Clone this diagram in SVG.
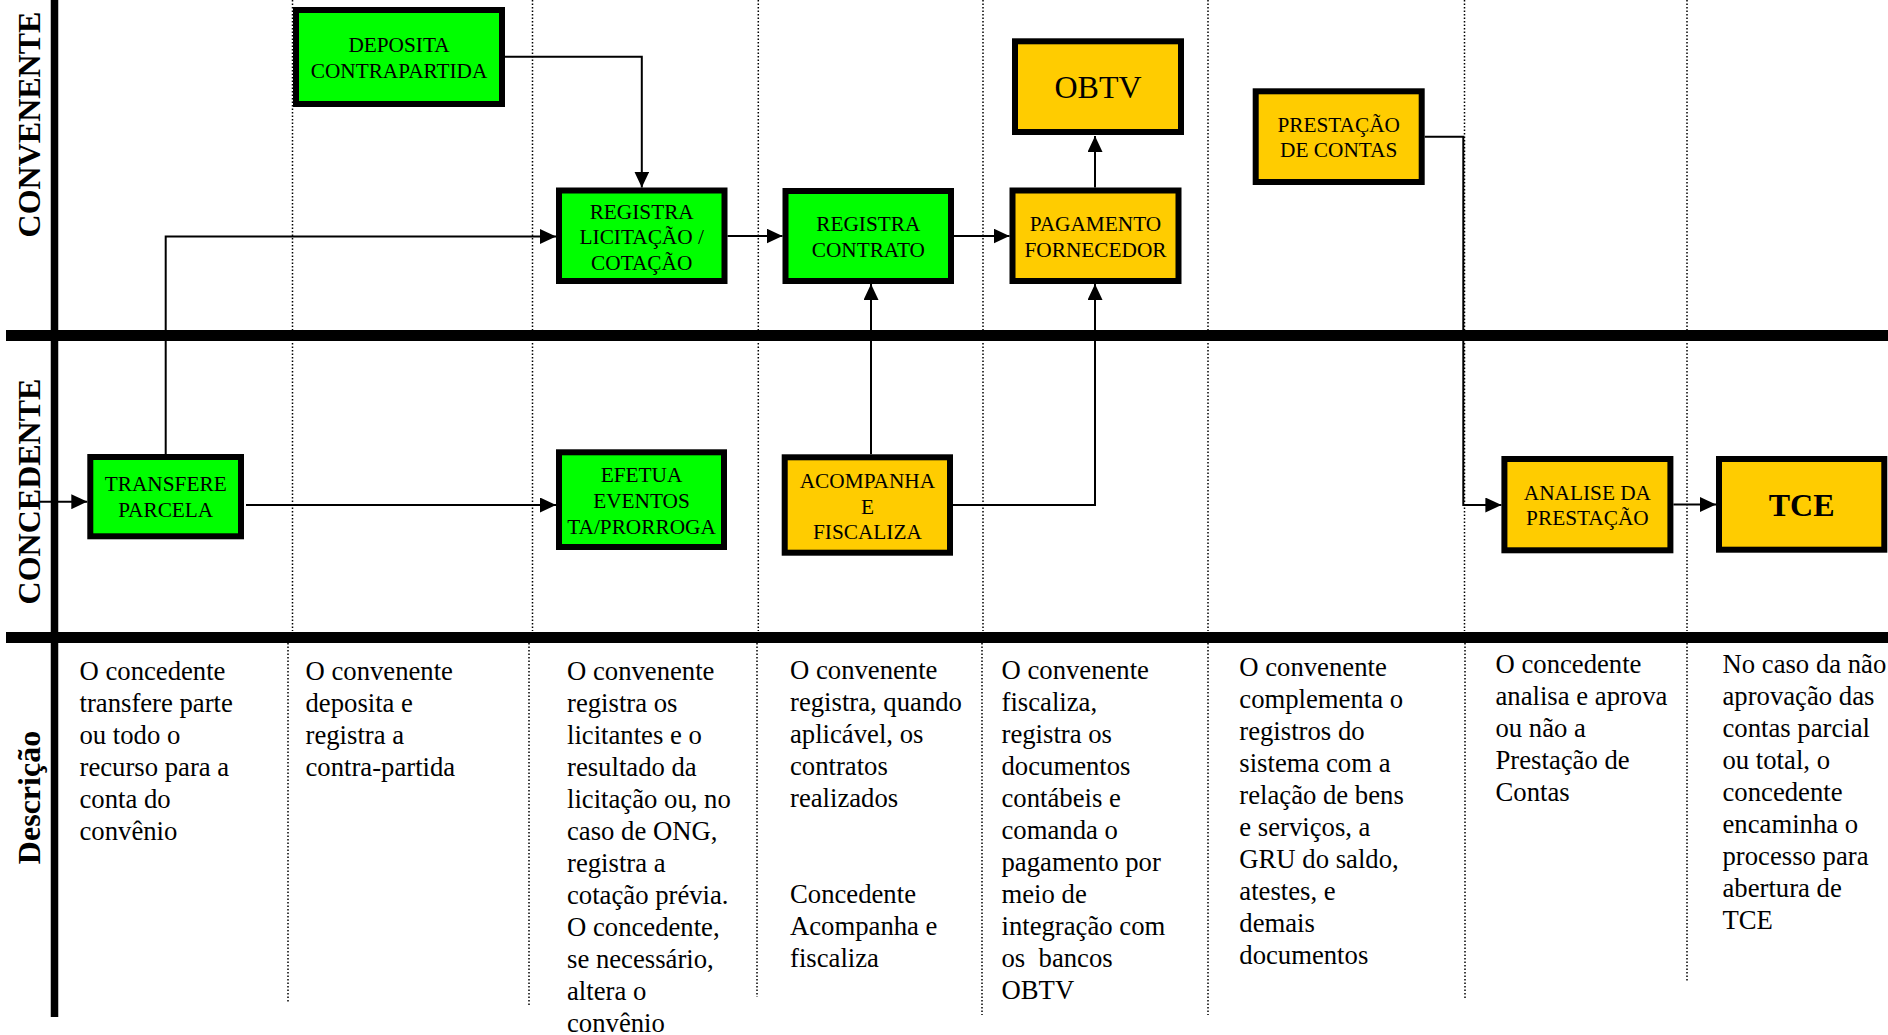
<svg xmlns="http://www.w3.org/2000/svg" width="1888" height="1035" viewBox="0 0 1888 1035">
<style>
.bx{stroke:#000;stroke-width:6}
.g{fill:#00ff00}
.y{fill:#ffcc00}
.bt{font-family:"Liberation Serif","Times New Roman",serif;font-size:21.3px;text-anchor:middle;fill:#000}
.big{font-size:32px}
.bold{font-weight:bold}
.ds{font-family:"Liberation Serif","Times New Roman",serif;font-size:26.7px;fill:#000}
.ln{font-family:"Liberation Serif","Times New Roman",serif;font-size:32px;font-weight:bold;text-anchor:middle;fill:#000}
.c{fill:none;stroke:#000;stroke-width:2}
.dot{stroke:#000;stroke-width:1.5;stroke-dasharray:1.5 2;fill:none}
.thick{stroke:#000;fill:none}
</style>
<defs>
<marker id="ah" markerUnits="userSpaceOnUse" markerWidth="16" markerHeight="15" refX="16" refY="7.5" orient="auto">
<path d="M0,0 L16,7.5 L0,15 Z" fill="#000"/>
</marker>
</defs>
<rect width="1888" height="1035" fill="#fff"/>
<g id="grid">
<path class="dot" d="M292.5,0V631 M532.5,0V631 M758.3,0V631 M983,0V631 M1208,0V631 M1464.5,0V631 M1687,0V631"/>
<path class="dot" d="M288,643V1003 M529,643V1006 M757,643V997 M982,643V1015 M1208,643V1015 M1465,643V998 M1687,643V982"/>
<path class="thick" stroke-width="7.5" d="M54.5,0V1017"/>
<path class="thick" stroke-width="11" d="M6,335.5H1888 M6,637.5H1888"/>
</g>
<g id="lanes">
<text class="ln" transform="translate(40,124.5) rotate(-90)">CONVENENTE</text>
<text class="ln" transform="translate(40,491.5) rotate(-90)">CONCEDENTE</text>
<text class="ln" transform="translate(40,797.5) rotate(-90)">Descrição</text>
</g>
<g id="connectors">
<path class="c" d="M165.7,454V236.5H556" marker-end="url(#ah)"/>
<path class="c" d="M505,56.7H641.8V187.5" marker-end="url(#ah)"/>
<path class="c" d="M727.5,236H782.5" marker-end="url(#ah)"/>
<path class="c" d="M954,236H1009.5" marker-end="url(#ah)"/>
<path class="c" d="M1095,187.5V136" marker-end="url(#ah)"/>
<path class="c" d="M871,454.3V284" marker-end="url(#ah)"/>
<path class="c" d="M953,505H1095V284" marker-end="url(#ah)"/>
<path class="c" d="M1424.7,136.7H1463.3V505H1501.4" marker-end="url(#ah)"/>
<path class="c" d="M1673.4,504.5H1716" marker-end="url(#ah)"/>
<path class="c" d="M40,501.7H87.3" marker-end="url(#ah)"/>
<path class="c" d="M246,505H556" marker-end="url(#ah)"/>
</g>
<g id="deposita">
<rect class="bx g" x="296" y="10" width="206" height="94"/>
<text class="bt"><tspan x="399" y="51.5">DEPOSITA</tspan><tspan x="399" y="77.5">CONTRAPARTIDA</tspan></text>
</g>
<g id="registra-licitacao">
<rect class="bx g" x="559" y="190.5" width="165.5" height="90.5"/>
<text class="bt"><tspan x="641.7" y="218.5">REGISTRA</tspan><tspan x="641.7" y="244">LICITAÇÃO /</tspan><tspan x="641.7" y="269.5">COTAÇÃO</tspan></text>
</g>
<g id="registra-contrato">
<rect class="bx g" x="785.5" y="191" width="165.5" height="90"/>
<text class="bt"><tspan x="868.3" y="231">REGISTRA</tspan><tspan x="868.3" y="257">CONTRATO</tspan></text>
</g>
<g id="pagamento">
<rect class="bx y" x="1012.5" y="190.5" width="166" height="90.5"/>
<text class="bt"><tspan x="1095.5" y="231">PAGAMENTO</tspan><tspan x="1095.5" y="257">FORNECEDOR</tspan></text>
</g>
<g id="obtv">
<rect class="bx y" x="1015" y="41.3" width="166" height="90.7"/>
<text class="bt big" x="1098" y="98">OBTV</text>
</g>
<g id="prestacao">
<rect class="bx y" x="1255.7" y="91.3" width="166" height="90.7"/>
<text class="bt"><tspan x="1338.7" y="131.5">PRESTAÇÃO</tspan><tspan x="1338.7" y="157">DE CONTAS</tspan></text>
</g>
<g id="transfere">
<rect class="bx g" x="90.3" y="457" width="150.7" height="79.3"/>
<text class="bt"><tspan x="165.7" y="491">TRANSFERE</tspan><tspan x="165.7" y="516.5">PARCELA</tspan></text>
</g>
<g id="efetua">
<rect class="bx g" x="559" y="452.3" width="165" height="94.7"/>
<text class="bt"><tspan x="641.5" y="482">EFETUA</tspan><tspan x="641.5" y="508">EVENTOS</tspan><tspan x="641.5" y="534">TA/PRORROGA</tspan></text>
</g>
<g id="acompanha">
<rect class="bx y" x="784.7" y="457.3" width="165.3" height="95.4"/>
<text class="bt"><tspan x="867.4" y="488">ACOMPANHA</tspan><tspan x="867.4" y="513.5">E</tspan><tspan x="867.4" y="539">FISCALIZA</tspan></text>
</g>
<g id="analise">
<rect class="bx y" x="1504.4" y="459" width="166" height="91.3"/>
<text class="bt"><tspan x="1587.4" y="499.5">ANALISE DA</tspan><tspan x="1587.4" y="525">PRESTAÇÃO</tspan></text>
</g>
<g id="tce">
<rect class="bx y" x="1719" y="459" width="165.3" height="90.7"/>
<text class="bt big bold" x="1801.6" y="516">TCE</text>
</g>
<g id="descricoes">
<text class="ds"><tspan x="79.5" y="680">O concedente</tspan><tspan x="79.5" dy="32">transfere parte</tspan><tspan x="79.5" dy="32">ou todo o</tspan><tspan x="79.5" dy="32">recurso para a</tspan><tspan x="79.5" dy="32">conta do</tspan><tspan x="79.5" dy="32">convênio</tspan></text>
<text class="ds"><tspan x="305.5" y="680">O convenente</tspan><tspan x="305.5" dy="32">deposita e</tspan><tspan x="305.5" dy="32">registra a</tspan><tspan x="305.5" dy="32">contra-partida</tspan></text>
<text class="ds"><tspan x="567" y="680">O convenente</tspan><tspan x="567" dy="32">registra os</tspan><tspan x="567" dy="32">licitantes e o</tspan><tspan x="567" dy="32">resultado da</tspan><tspan x="567" dy="32">licitação ou, no</tspan><tspan x="567" dy="32">caso de ONG,</tspan><tspan x="567" dy="32">registra a</tspan><tspan x="567" dy="32">cotação prévia.</tspan><tspan x="567" dy="32">O concedente,</tspan><tspan x="567" dy="32">se necessário,</tspan><tspan x="567" dy="32">altera o</tspan><tspan x="567" dy="32">convênio</tspan></text>
<text class="ds"><tspan x="790" y="679">O convenente</tspan><tspan x="790" dy="32">registra, quando</tspan><tspan x="790" dy="32">aplicável, os</tspan><tspan x="790" dy="32">contratos</tspan><tspan x="790" dy="32">realizados</tspan><tspan x="790" dy="96">Concedente</tspan><tspan x="790" dy="32">Acompanha e</tspan><tspan x="790" dy="32">fiscaliza</tspan></text>
<text class="ds"><tspan x="1001.5" y="679">O convenente</tspan><tspan x="1001.5" dy="32">fiscaliza,</tspan><tspan x="1001.5" dy="32">registra os</tspan><tspan x="1001.5" dy="32">documentos</tspan><tspan x="1001.5" dy="32">contábeis e</tspan><tspan x="1001.5" dy="32">comanda o</tspan><tspan x="1001.5" dy="32">pagamento por</tspan><tspan x="1001.5" dy="32">meio de</tspan><tspan x="1001.5" dy="32">integração com</tspan><tspan x="1001.5" dy="32">os&#160; bancos</tspan><tspan x="1001.5" dy="32">OBTV</tspan></text>
<text class="ds"><tspan x="1239.3" y="676">O convenente</tspan><tspan x="1239.3" dy="32">complementa o</tspan><tspan x="1239.3" dy="32">registros do</tspan><tspan x="1239.3" dy="32">sistema com a</tspan><tspan x="1239.3" dy="32">relação de bens</tspan><tspan x="1239.3" dy="32">e serviços, a</tspan><tspan x="1239.3" dy="32">GRU do saldo,</tspan><tspan x="1239.3" dy="32">atestes, e</tspan><tspan x="1239.3" dy="32">demais</tspan><tspan x="1239.3" dy="32">documentos</tspan></text>
<text class="ds"><tspan x="1495.5" y="672.5">O concedente</tspan><tspan x="1495.5" dy="32">analisa e aprova</tspan><tspan x="1495.5" dy="32">ou não a</tspan><tspan x="1495.5" dy="32">Prestação de</tspan><tspan x="1495.5" dy="32">Contas</tspan></text>
<text class="ds"><tspan x="1722.5" y="672.5">No caso da não</tspan><tspan x="1722.5" dy="32">aprovação das</tspan><tspan x="1722.5" dy="32">contas parcial</tspan><tspan x="1722.5" dy="32">ou total, o</tspan><tspan x="1722.5" dy="32">concedente</tspan><tspan x="1722.5" dy="32">encaminha o</tspan><tspan x="1722.5" dy="32">processo para</tspan><tspan x="1722.5" dy="32">abertura de</tspan><tspan x="1722.5" dy="32">TCE</tspan></text>
</g>
</svg>
